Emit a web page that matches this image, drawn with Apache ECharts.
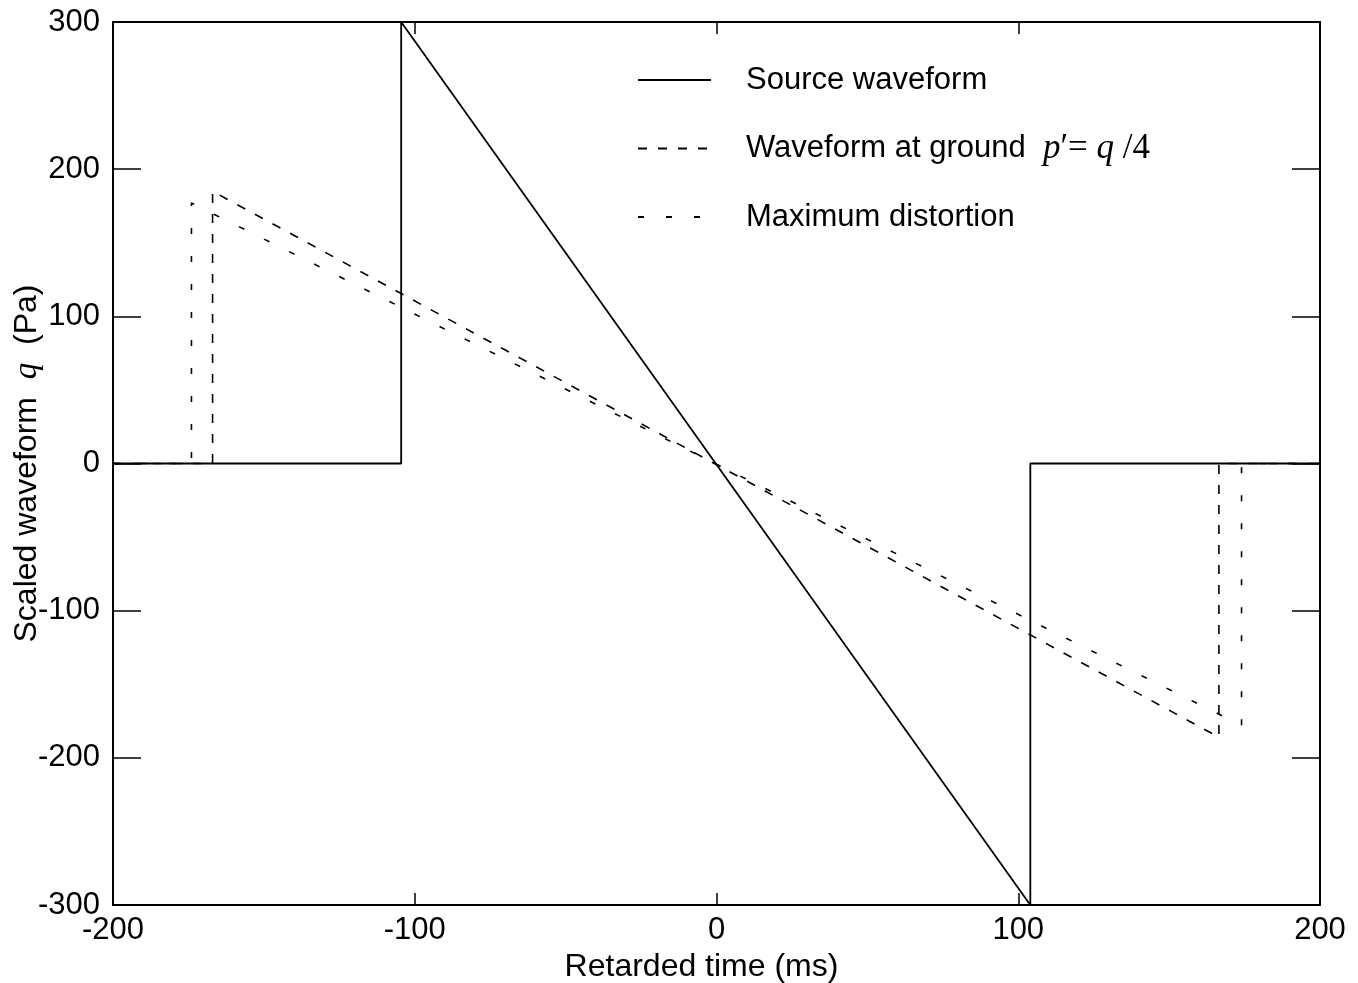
<!DOCTYPE html>
<html>
<head>
<meta charset="utf-8">
<script src="https://cdn.jsdelivr.net/npm/echarts@6/dist/echarts.min.js"></script>
<style>
  html, body { margin: 0; padding: 0; background: #fff; }
  #chart { width: 1358px; height: 983px; }
</style>
</head>
<body>
<div id="chart"></div>
<script>
// source N-wave
let sourceX = [-200, -104.5, -104.5, 104, 104, 200];
let sourceY = [0, 0, 300, -300, 0, 0];
// waveform at ground
let groundX = [-200, -167, -167, 166.5, 166.5, 200];
let groundY = [0, 0, 185, -186, 0, 0];
// maximum distortion
let distX = [-200, -174, -174, 174, 174, 200];
let distY = [0, 0, 177, -178, 0, 0];

let xTicks = [-200, -100, 0, 100, 200];
let yTicks = [-300, -200, -100, 0, 100, 200, 300];

function pairs(xs, ys) {
    let out = [];
    for (let i = 0; i < xs.length; i++) out.push([xs[i], ys[i]]);
    return out;
}

let font = 'Liberation Sans';
let myChart = echarts.init(document.getElementById('chart'));

let xBase = {
    type: 'value',
    min: xTicks[0],
    max: xTicks[xTicks.length - 1],
    interval: 100,
    splitLine: { show: false },
    axisLine: { show: true, onZero: false, lineStyle: { color: '#000', width: 2 } },
    axisTick: { show: true, inside: true, length: 12, lineStyle: { color: '#000', width: 1.5 } }
};
let yBase = {
    type: 'value',
    min: yTicks[0],
    max: yTicks[yTicks.length - 1],
    interval: 100,
    splitLine: { show: false },
    axisLine: { show: true, onZero: false, lineStyle: { color: '#000', width: 2 } },
    axisTick: { show: true, inside: true, length: 28, lineStyle: { color: '#000', width: 1.5 } }
};

let option = {
    animation: false,
    backgroundColor: '#fff',
    grid: { left: 113, right: 38, top: 22, bottom: 78, containLabel: false, outerBoundsMode: 'none' },
    legend: {
        orient: 'vertical',
        left: 637,
        top: 63,
        padding: 0,
        itemWidth: 73,
        itemHeight: 14,
        itemGap: 34,
        selectedMode: false,
        itemStyle: { opacity: 0 },
        data: ['Source waveform', 'Waveform at ground', 'Maximum distortion'],
        formatter: function (name) {
            if (name === 'Waveform at ground') {
                return 'Waveform at ground  {i|p}{r|′= }{i|q}{r| /4}';
            }
            return name;
        },
        textStyle: {
            color: '#000',
            fontFamily: font,
            fontSize: 31,
            lineHeight: 34,
            padding: [0, 0, 0, 30],
            rich: {
                i: { fontFamily: 'Liberation Serif', fontStyle: 'italic', fontSize: 35, color: '#000' },
                r: { fontFamily: 'Liberation Serif', fontSize: 35, color: '#000' }
            }
        }
    },
    xAxis: [
        Object.assign({}, xBase, {
            position: 'bottom',
            name: 'Retarded time (ms)',
            nameLocation: 'middle',
            nameGap: 44,
            nameTextStyle: { color: '#000', fontFamily: font, fontSize: 32, padding: [0, 30, 0, 0] },
            axisLabel: { color: '#000', fontFamily: font, fontSize: 31, margin: 10 }
        }),
        Object.assign({}, xBase, { position: 'top', axisLabel: { show: false } })
    ],
    yAxis: [
        Object.assign({}, yBase, {
            position: 'left',
            name: '{a|Scaled waveform  }{q|q}{a|  (Pa)}',
            nameLocation: 'middle',
            nameGap: 69,
            nameMoveOverlap: false,
            nameTextStyle: {
                rich: {
                    a: { color: '#000', fontFamily: font, fontSize: 32 },
                    q: { color: '#000', fontFamily: 'Liberation Serif', fontStyle: 'italic', fontSize: 33 }
                }
            },
            axisLabel: { color: '#000', fontFamily: font, fontSize: 31, margin: 13 }
        }),
        Object.assign({}, yBase, { position: 'right', axisLabel: { show: false } })
    ],
    series: [
        {
            name: 'Source waveform',
            type: 'line',
            data: pairs(sourceX, sourceY),
            symbol: 'none',
            lineStyle: { color: '#000', width: 1.8, type: 'solid' },
            itemStyle: { color: '#000' },
            z: 3
        },
        {
            name: 'Waveform at ground',
            type: 'line',
            data: pairs(groundX, groundY),
            symbol: 'none',
            lineStyle: { color: '#000', width: 1.6, type: [9, 11] },
            itemStyle: { color: '#000' }
        },
        {
            name: 'Maximum distortion',
            type: 'line',
            data: pairs(distX, distY),
            symbol: 'none',
            lineStyle: { color: '#000', width: 1.6, type: [6, 22] },
            itemStyle: { color: '#000' }
        }
    ]
};

myChart.setOption(option);
</script>
</body>
</html>
